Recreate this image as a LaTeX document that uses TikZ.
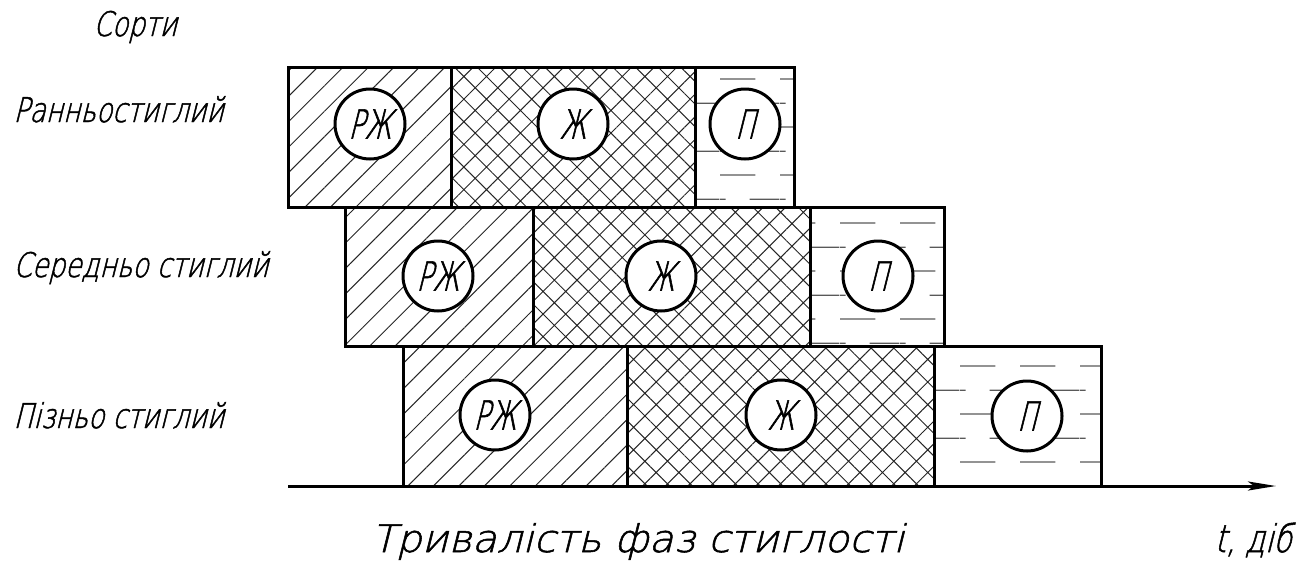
\documentclass[tikz,border=0pt]{standalone}
\usepackage{fontspec}
\setmainfont{DejaVu Sans ExtraLight}[FakeSlant=0.25, FakeStretch=0.78, FakeBold=1.4]
\newfontfamily\captionfont{DejaVu Sans ExtraLight}[FakeSlant=0.25, FakeStretch=1.06, FakeBold=1.4]
\newfontfamily\markfont{DejaVu Sans ExtraLight}[FakeSlant=0.25, FakeStretch=0.66, FakeBold=1.4]
\usetikzlibrary{patterns.meta, arrows.meta}

% dashed fill of the last phase
\tikzdeclarepattern{
  name=fulldash,
  type=uncolored,
  bottom left={(0pt,0pt)},
  top right={(30pt,23.86pt)},
  tile size={(30pt,23.86pt)},
  code={
    \draw[line width=0.7pt] (0pt,3pt) -- (17.86pt,3pt);
    \draw[line width=0.7pt] (15pt,14.93pt) -- (30pt,14.93pt);
    \draw[line width=0.7pt] (0pt,14.93pt) -- (2.86pt,14.93pt);
  }
}

\begin{document}
\begin{tikzpicture}[
        x=0.5pt, y=-0.5pt,
        phase/.style={line width=1.5pt},
        earlyhatch/.style={pattern={Lines[angle=45, distance=9pt, line width=0.5pt]}, pattern color=black!85},
        yellowhatch/.style={pattern={Hatch[angle=45, distance=8pt, line width=0.5pt]}, pattern color=black!85},
        fullhatch/.style={pattern=fulldash, pattern color=black!65},
        phasemark/.style={circle, draw, line width=1.5pt, fill=white, minimum size=35pt, inner sep=0pt, font=\markfont\fontsize{20}{22}\selectfont},
        sortlabel/.style={anchor=base west, inner sep=0pt, font=\fontsize{17}{20}\selectfont},
        axis/.style={line width=1.5pt, -{Stealth[length=14pt, width=4.5pt, inset=3pt]}}
    ]
    \useasboundingbox (0,0) rectangle (1306,563);

    % Hatched phases
    \foreach \a/\b/\c/\d/\t/\u in {288/451/695/794/67/207, 345/533/810/944/207/346, 403/627/934/1101/346/486} {
        \fill[earlyhatch] (\a,\t) rectangle (\b,\u);
        \fill[yellowhatch] (\b,\t) rectangle (\c,\u);
        \fill[fullhatch] (\c,\t) rectangle (\d,\u);
    }

    % Outlines
    \foreach \a/\b/\c/\d/\t/\u in {288/451/695/794/67/207, 345/533/810/944/207/346, 403/627/934/1101/346/486} {
        \draw[phase] (\a,\t) rectangle (\d,\u);
        \draw[phase] (\b,\t) -- (\b,\u);
        \draw[phase] (\c,\t) -- (\c,\u);
    }

    % Phase marks
    \foreach \x/\y/\m/\n in {370/124/РЖ/rzh1, 573/124/Ж/zh1, 745/124/П/p1,
                             438/276/РЖ/rzh2, 661/276/Ж/zh2, 878/276/П/p2,
                             495/415/РЖ/rzh3, 781/415/Ж/zh3, 1027/416/П/p3}
        \node[phasemark] (\n) at (\x,\y) {\m};

    % Labels
    \node[sortlabel] (sorts) at (93,36) {Сорти};
    \node[sortlabel] (early) at (13,122) {Ранньостиглий};
    \node[sortlabel] (middle) at (13,277) {Середньо стиглий};
    \node[sortlabel] (late) at (13,428) {Пізньо стиглий};

    % Time axis
    \coordinate (t0) at (288,486);
    \coordinate (t1) at (1276,486);
    \draw[axis] (t0) -- (t1);
    \node[anchor=base, inner sep=0pt, font=\captionfont\fontsize{19}{22}\selectfont] (duration) at (638,552) {Тривалість фаз стиглості};
    \node[anchor=base, inner sep=0pt, font=\fontsize{19}{22}\selectfont] (days) at (1253,552) {t, діб};

\end{tikzpicture}
\end{document}
